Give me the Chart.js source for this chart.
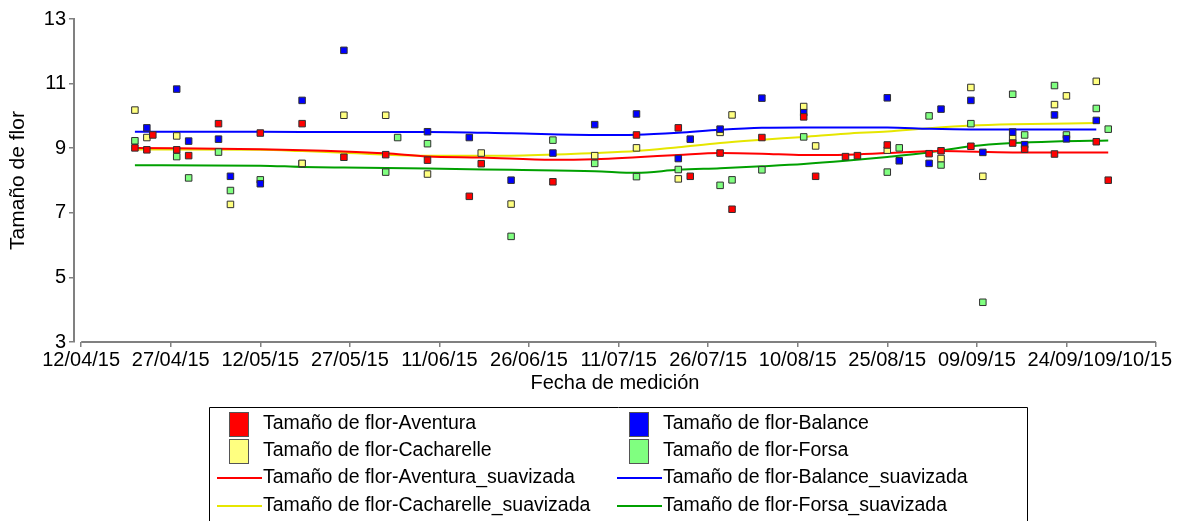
<!DOCTYPE html>
<html lang="es">
<head>
<meta charset="UTF-8">
<title>Tamaño de flor</title>
<script src="https://cdn.jsdelivr.net/npm/chart.js@4"></script>
<style>
  html, body { margin: 0; padding: 0; background: #fff; }
  #wrap { width: 1182px; height: 521px; }
</style>
</head>
<body>
<div id="wrap"><canvas id="grafico" width="1182" height="521"></canvas></div>
<script>
// ---- datos ----
const fechasEje = ['12/04/15', '27/04/15', '12/05/15', '27/05/15', '11/06/15', '26/06/15', '11/07/15',
                   '26/07/15', '10/08/15', '25/08/15', '09/09/15', '24/09/15', '09/10/15'];
const valoresEjeY = [3, 5, 7, 9, 11, 13];

const aventuraFechas = ['21/04/15', '23/04/15', '24/04/15', '28/04/15', '30/04/15', '05/05/15', '12/05/15', '19/05/15',
  '26/05/15', '02/06/15', '09/06/15', '16/06/15', '18/06/15', '30/06/15', '14/07/15', '21/07/15', '23/07/15',
  '28/07/15', '30/07/15', '04/08/15', '11/08/15', '13/08/15', '18/08/15', '20/08/15', '25/08/15', '01/09/15',
  '03/09/15', '08/09/15', '15/09/15', '17/09/15', '22/09/15', '29/09/15', '01/10/15'];
const aventuraValores = [9.01, 8.95, 9.41, 8.95, 8.77, 9.76, 9.47, 9.76,
  8.72, 8.80, 8.63, 7.51, 8.52, 7.96, 9.41, 9.63, 8.13,
  8.85, 7.11, 9.33, 9.97, 8.13, 8.74, 8.77, 9.10, 8.83,
  8.92, 9.06, 9.16, 8.97, 8.82, 9.20, 8.01];

const balanceFechas = ['23/04/15', '28/04/15', '30/04/15', '05/05/15', '07/05/15', '12/05/15', '19/05/15', '26/05/15',
  '09/06/15', '16/06/15', '23/06/15', '30/06/15', '07/07/15', '14/07/15', '21/07/15', '23/07/15', '28/07/15',
  '04/08/15', '11/08/15', '25/08/15', '27/08/15', '01/09/15', '03/09/15', '08/09/15', '10/09/15', '15/09/15',
  '17/09/15', '22/09/15', '24/09/15', '29/09/15'];
const balanceValores = [9.63, 10.83, 9.22, 9.28, 8.13, 7.90, 10.48, 12.03,
  9.51, 9.33, 8.01, 8.85, 9.73, 10.06, 8.68, 9.28, 9.59,
  10.55, 10.10, 10.56, 8.61, 8.53, 10.21, 10.48, 8.87, 9.50,
  9.11, 10.03, 9.29, 9.86];

const cacharelleFechas = ['21/04/15', '23/04/15', '28/04/15', '07/05/15', '19/05/15', '26/05/15', '02/06/15', '09/06/15',
  '18/06/15', '23/06/15', '07/07/15', '14/07/15', '21/07/15', '28/07/15', '30/07/15', '11/08/15', '13/08/15',
  '25/08/15', '03/09/15', '08/09/15', '10/09/15', '15/09/15', '22/09/15', '24/09/15', '29/09/15'];
const cacharelleValores = [10.18, 9.33, 9.38, 7.26, 8.53, 10.02, 10.02, 8.20,
  8.85, 7.27, 8.77, 9.01, 8.05, 9.49, 10.03, 10.29, 9.07,
  8.94, 8.68, 10.88, 8.13, 9.30, 10.35, 10.62, 11.07];

const forsaFechas = ['21/04/15', '28/04/15', '30/04/15', '05/05/15', '07/05/15', '12/05/15', '19/05/15', '02/06/15',
  '04/06/15', '09/06/15', '23/06/15', '30/06/15', '07/07/15', '14/07/15', '21/07/15', '28/07/15', '30/07/15',
  '04/08/15', '11/08/15', '25/08/15', '27/08/15', '01/09/15', '03/09/15', '08/09/15', '10/09/15', '15/09/15',
  '17/09/15', '22/09/15', '24/09/15', '29/09/15', '01/10/15'];
const forsaValores = [9.23, 8.74, 8.08, 8.88, 7.69, 8.02, 8.52, 8.26,
  9.33, 9.14, 6.27, 9.25, 8.53, 8.12, 8.34, 7.85, 8.02,
  8.33, 9.35, 8.26, 9.01, 10.00, 8.48, 9.76, 4.23, 10.67,
  9.41, 10.94, 9.41, 10.23, 9.59];

// curvas suavizadas
const aventuraSuavFechas = ['21/04/15', '12/05/15', '26/05/15', '02/06/15', '09/06/15', '18/06/15', '30/06/15', '07/07/15',
  '14/07/15', '21/07/15', '28/07/15', '04/08/15', '11/08/15', '18/08/15', '25/08/15', '03/09/15', '15/09/15', '01/10/15'];
const aventuraSuavValores = [9.01, 8.97, 8.90, 8.84, 8.74, 8.71, 8.64, 8.66,
  8.72, 8.79, 8.85, 8.83, 8.79, 8.80, 8.85, 8.91, 8.87, 8.87];

const balanceSuavFechas = ['21/04/15', '12/05/15', '26/05/15', '09/06/15', '23/06/15', '07/07/15', '14/07/15', '21/07/15',
  '28/07/15', '04/08/15', '11/08/15', '25/08/15', '01/09/15', '08/09/15', '29/09/15'];
const balanceSuavValores = [9.51, 9.51, 9.50, 9.50, 9.46, 9.41, 9.42, 9.48,
  9.57, 9.63, 9.64, 9.64, 9.60, 9.58, 9.58];

const cacharelleSuavFechas = ['21/04/15', '12/05/15', '19/05/15', '26/05/15', '02/06/15', '09/06/15', '23/06/15', '07/07/15',
  '14/07/15', '21/07/15', '28/07/15', '04/08/15', '11/08/15', '18/08/15', '25/08/15', '01/09/15', '08/09/15', '15/09/15', '29/09/15'];
const cacharelleSuavValores = [8.96, 8.95, 8.91, 8.86, 8.80, 8.77, 8.77, 8.85,
  8.91, 9.03, 9.16, 9.26, 9.35, 9.45, 9.52, 9.62, 9.70, 9.74, 9.78];

const forsaSuavFechas = ['21/04/15', '12/05/15', '19/05/15', '26/05/15', '09/06/15', '23/06/15', '07/07/15', '14/07/15',
  '21/07/15', '28/07/15', '04/08/15', '11/08/15', '18/08/15', '25/08/15', '01/09/15', '08/09/15', '15/09/15', '22/09/15', '01/10/15'];
const forsaSuavValores = [8.47, 8.46, 8.42, 8.40, 8.37, 8.33, 8.29, 8.24,
  8.33, 8.38, 8.44, 8.51, 8.61, 8.73, 8.87, 9.06, 9.16, 9.21, 9.24];

// ---- utilidades ----
const FUENTE = '"Liberation Sans", Arial, sans-serif';
const base = Date.UTC(2015, 3, 12);
function dia(f) {
    const [d, m, a] = f.split('/').map(Number);
    return Math.round((Date.UTC(2000 + a, m - 1, d) - base) / 86400000);
}
function puntos(fechas, valores) {
    return fechas.map((f, i) => ({ x: dia(f), y: valores[i] }));
}

function serie(label, fechas, valores, color) {
    return {
        label, data: puntos(fechas, valores),
        backgroundColor: color, borderColor: '#303030', borderWidth: 1,
        pointStyle: 'rect', pointRadius: 4.6, showLine: false
    };
}
function suavizada(label, fechas, valores, color) {
    return {
        label, data: puntos(fechas, valores),
        borderColor: color, backgroundColor: color, borderWidth: 2,
        pointRadius: 0, showLine: true, fill: false,
        tension: 0.4, cubicInterpolationMode: 'monotone'
    };
}

// etiquetas del eje X con fondo blanco (la ultima se recorta como en el original)
const etiquetasX = {
    id: 'etiquetasX',
    afterDraw(chart) {
        const ctx = chart.ctx, sx = chart.scales.x, fondo = chart.chartArea.bottom;
        ctx.save();
        ctx.strokeStyle = '#808080';
        ctx.lineWidth = 2;
        ctx.beginPath();
        ctx.moveTo(sx.getPixelForValue(dia(fechasEje[0])), fondo);
        ctx.lineTo(sx.getPixelForValue(dia(fechasEje[fechasEje.length - 1])), fondo);
        ctx.stroke();

        ctx.font = '20px ' + FUENTE;
        ctx.textBaseline = 'middle';
        ctx.textAlign = 'left';
        const y = fondo + 18;
        fechasEje.forEach(f => {
            const w = ctx.measureText(f).width;
            let x = sx.getPixelForValue(dia(f)) - w / 2;
            x = Math.min(x, chart.width - 10 - w);
            ctx.fillStyle = '#fff';
            ctx.fillRect(x - 1, y - 11, w + 2, 22);
            ctx.fillStyle = '#000';
            ctx.fillText(f, x, y);
        });
        ctx.restore();
    }
};

// leyenda en recuadro, dos columnas
const leyenda = {
    id: 'leyenda',
    afterDraw(chart) {
        const ctx = chart.ctx;
        const caja = { izq: 209, der: 1027, arriba: 407 };
        ctx.save();
        ctx.strokeStyle = '#000';
        ctx.lineWidth = 1;
        ctx.beginPath();
        ctx.moveTo(caja.izq + 0.5, chart.height + 2);
        ctx.lineTo(caja.izq + 0.5, caja.arriba + 0.5);
        ctx.lineTo(caja.der + 0.5, caja.arriba + 0.5);
        ctx.lineTo(caja.der + 0.5, chart.height + 2);
        ctx.stroke();

        ctx.font = '19.5px ' + FUENTE;
        ctx.textBaseline = 'middle';
        ctx.textAlign = 'left';
        const filas = [424, 451, 478, 506];
        const colTexto = [263, 663];
        chart.data.datasets.forEach((ds, i) => {
            const fila = Math.floor(i / 2), col = i % 2;
            const y = filas[fila], xt = colTexto[col];
            if (ds.showLine) {
                ctx.strokeStyle = ds.borderColor;
                ctx.lineWidth = 2;
                ctx.beginPath();
                ctx.moveTo(xt - 46, y);
                ctx.lineTo(xt - 1, y);
                ctx.stroke();
            } else {
                ctx.fillStyle = ds.backgroundColor;
                ctx.fillRect(xt - 34, y - 12, 19, 24);
                ctx.strokeStyle = '#555';
                ctx.lineWidth = 1;
                ctx.strokeRect(xt - 34 + 0.5, y - 12 + 0.5, 19, 24);
            }
            ctx.fillStyle = '#000';
            ctx.fillText(ds.label, xt, y);
        });
        ctx.restore();
    }
};

new Chart(document.getElementById('grafico'), {
    type: 'scatter',
    data: {
        datasets: [
            serie('Tamaño de flor-Aventura', aventuraFechas, aventuraValores, '#ff0000'),
            serie('Tamaño de flor-Balance', balanceFechas, balanceValores, '#0000ff'),
            serie('Tamaño de flor-Cacharelle', cacharelleFechas, cacharelleValores, '#ffff80'),
            serie('Tamaño de flor-Forsa', forsaFechas, forsaValores, '#80ff80'),
            suavizada('Tamaño de flor-Aventura_suavizada', aventuraSuavFechas, aventuraSuavValores, '#ff0000'),
            suavizada('Tamaño de flor-Balance_suavizada', balanceSuavFechas, balanceSuavValores, '#0000ff'),
            suavizada('Tamaño de flor-Cacharelle_suavizada', cacharelleSuavFechas, cacharelleSuavValores, '#e6e600'),
            suavizada('Tamaño de flor-Forsa_suavizada', forsaSuavFechas, forsaSuavValores, '#00a000')
        ]
    },
    options: {
        responsive: false,
        animation: false,
        devicePixelRatio: 1,
        layout: { padding: { left: 6, top: 19, right: 26, bottom: 126 } },
        plugins: { legend: { display: false }, tooltip: { enabled: false } },
        scales: {
            x: {
                type: 'linear',
                min: dia(fechasEje[0]) - 1.2,
                max: dia(fechasEje[fechasEje.length - 1]),
                afterBuildTicks(scale) { scale.ticks = fechasEje.map(f => ({ value: dia(f) })); },
                afterFit(scale) { scale.height = 53; scale.paddingLeft = 0; scale.paddingRight = 0; },
                ticks: { display: false },
                grid: { drawOnChartArea: false, drawTicks: true, tickLength: 5, color: '#808080', lineWidth: 1.5 },
                border: { display: false },
                title: { display: true, text: 'Fecha de medición', color: '#000', padding: 0, font: { family: FUENTE, size: 20 } }
            },
            y: {
                min: valoresEjeY[0],
                max: valoresEjeY[valoresEjeY.length - 1],
                afterBuildTicks(scale) { scale.ticks = valoresEjeY.map(v => ({ value: v })); },
                afterFit(scale) { scale.width = 68; scale.paddingTop = 0; scale.paddingBottom = 0; },
                ticks: { color: '#000', padding: 3, font: { family: FUENTE, size: 20 } },
                grid: { drawOnChartArea: false, drawTicks: true, tickLength: 5, color: '#808080', lineWidth: 1.5 },
                border: { display: true, color: '#808080', width: 2 },
                title: { display: true, text: 'Tamaño de flor', color: '#000', padding: 0, font: { family: FUENTE, size: 21 } }
            }
        }
    },
    plugins: [etiquetasX, leyenda]
});
</script>
</body>
</html>
